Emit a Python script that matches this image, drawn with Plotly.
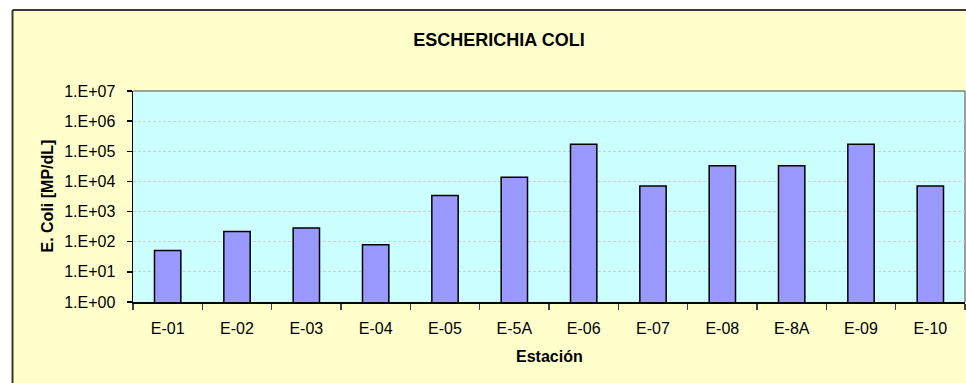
import plotly.graph_objects as go

stations = ["E-01", "E-02", "E-03", "E-04", "E-05", "E-5A", "E-06", "E-07", "E-08", "E-8A", "E-09", "E-10"]
ecoli = [51, 220, 285, 80, 3400, 13800, 170000, 7000, 33000, 33000, 170000, 7000]
ytick_vals = [1, 10, 100, 1000, 10000, 100000, 1000000, 10000000]
ytick_text = ["1.E+00", "1.E+01", "1.E+02", "1.E+03", "1.E+04", "1.E+05", "1.E+06", "1.E+07"]

FONT = "Arial, Liberation Sans, sans-serif"
W, H = 966, 383
L, R, T, B = 133, 1, 91, 81
pw, ph = W - L - R, H - T - B

def px_x(px):
    return (px - L) / pw

def px_y(py):
    return (H - B - py) / ph

fig = go.Figure(go.Bar(
    x=stations, y=ecoli,
    marker=dict(color="#9999FF", line=dict(color="#000000", width=1.5)),
))

frame_l, frame_t = px_x(12.5), px_y(10)
shapes = [
    # white surround outside the chart frame
    dict(type="rect", xref="paper", yref="paper", x0=-2, x1=frame_l, y0=-2, y1=3,
         fillcolor="white", line=dict(width=0), layer="above"),
    dict(type="rect", xref="paper", yref="paper", x0=-2, x1=3, y0=frame_t, y1=3,
         fillcolor="white", line=dict(width=0), layer="above"),
    dict(type="line", xref="paper", yref="paper", x0=frame_l, x1=frame_l, y0=-2, y1=frame_t,
         line=dict(color="#383838", width=2), layer="above"),
    dict(type="line", xref="paper", yref="paper", x0=frame_l, x1=3, y0=frame_t, y1=frame_t,
         line=dict(color="#383838", width=2), layer="above"),
    # plot-area border (top and right, gray)
    dict(type="line", xref="paper", yref="paper", x0=0, x1=1, y0=1, y1=1,
         line=dict(color="#808080", width=1.5), layer="below"),
    dict(type="line", xref="paper", yref="paper", x0=1, x1=1, y0=0, y1=1,
         line=dict(color="#808080", width=1.5), layer="below"),
]

annotations = [
    dict(text="<b>Estación</b>", xref="paper", yref="paper", x=0.5, y=px_y(356),
         xanchor="center", yanchor="middle", showarrow=False,
         font=dict(family=FONT, size=16, color="black")),
    dict(text="<b>E. Coli [MP/dL]</b>", xref="paper", yref="paper", x=px_x(47), y=0.5,
         xanchor="center", yanchor="middle", showarrow=False, textangle=-90,
         font=dict(family=FONT, size=16, color="black")),
]

fig.update_layout(
    width=W, height=H,
    margin=dict(l=L, r=R, t=T, b=B, pad=0, autoexpand=False),
    paper_bgcolor="#FFFFCC",
    plot_bgcolor="#CCFFFF",
    font=dict(family=FONT, size=16, color="black"),
    title=dict(text="<b>ESCHERICHIA COLI</b>", x=499 / W, xref="container", xanchor="center",
               y=1 - 39.5 / H, yref="container", yanchor="middle",
               font=dict(family=FONT, size=18, color="black")),
    bargap=0.62,
    showlegend=False,
    shapes=shapes,
    annotations=annotations,
    xaxis=dict(
        type="category", tickson="boundaries", ticks="outside", ticklen=6, tickwidth=1.5,
        tickcolor="#404040", showline=True, linecolor="black", linewidth=1.5,
        showgrid=False, tickfont=dict(family=FONT, size=16), fixedrange=True,
        ticklabelstandoff=11, automargin=False,
    ),
    yaxis=dict(
        type="log", range=[0, 7], tickvals=ytick_vals, ticktext=ytick_text,
        ticks="outside", ticklen=5, tickwidth=1.5, tickcolor="black",
        showline=True, linecolor="black", linewidth=1.5,
        showgrid=True, gridcolor="#CFCFCF", griddash="3px,2px", gridwidth=1,
        tickfont=dict(family=FONT, size=16), zeroline=False, fixedrange=True,
        ticklabelstandoff=8, automargin=False,
    ),
)

fig.write_html(
    "out.html",
    config={"displayModeBar": False, "staticPlot": True},
    post_script="document.body.style.margin='0';document.body.style.overflow='hidden';",
)
